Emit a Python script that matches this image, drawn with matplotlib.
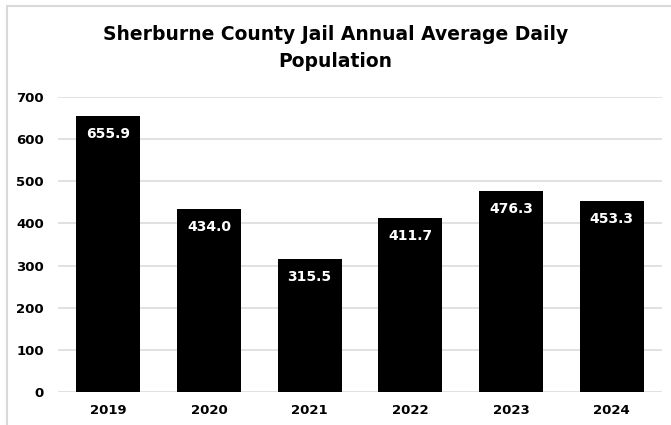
import matplotlib.pyplot as plt
from matplotlib.patches import Rectangle

# annual average daily population
years = ["2019", "2020", "2021", "2022", "2023", "2024"]
population = [655.9, 434.0, 315.5, 411.7, 476.3, 453.3]
y_ticks = [0, 100, 200, 300, 400, 500, 600, 700]

plt.rcParams['font.family'] = ['DejaVu Sans']

fig = plt.figure(figsize=(6.71, 4.25), dpi=100)
fig.patch.set_facecolor("white")

# chart frame (right and bottom edges run off the picture)
fig.patches.append(Rectangle((7 / 671, -0.05), 1.2, (425 - 6) / 425 + 0.05,
                             transform=fig.transFigure, fill=False,
                             edgecolor="#d9d9d9", linewidth=1.5))

ax = fig.add_axes([58 / 671, 33 / 425, 604 / 671, 295 / 425])
x = range(len(years))
bars = ax.bar(x, population, width=0.635, color="black", zorder=3)

for i, v in enumerate(population):
    ax.text(i, v - 18 / 0.4214, f"{v:.1f}", color="white", fontweight="bold",
            fontsize=10, ha="center", va="center", zorder=4)

ax.set_xlim(-0.5, len(years) - 0.5)
ax.set_ylim(0, 700)
ax.set_yticks(y_ticks)
ax.set_xticks(list(x))
ax.set_xticklabels(years, fontweight="bold", fontsize=9.5)
for lab in ax.get_yticklabels():
    lab.set_fontweight("bold")
    lab.set_fontsize(9.5)
ax.tick_params(length=0)
ax.tick_params(axis="y", pad=10)
ax.tick_params(axis="x", pad=9)
ax.grid(axis="y", color="#dcdcdc", linewidth=1.2, zorder=0)
for s in ax.spines.values():
    s.set_visible(False)

fig.text(0.5, 1 - 48 / 425, "Sherburne County Jail Annual Average Daily\nPopulation",
         ha="center", va="center", fontsize=13.5, fontweight="bold",
         linespacing=1.5)

fig.savefig("out.png", dpi=100)
